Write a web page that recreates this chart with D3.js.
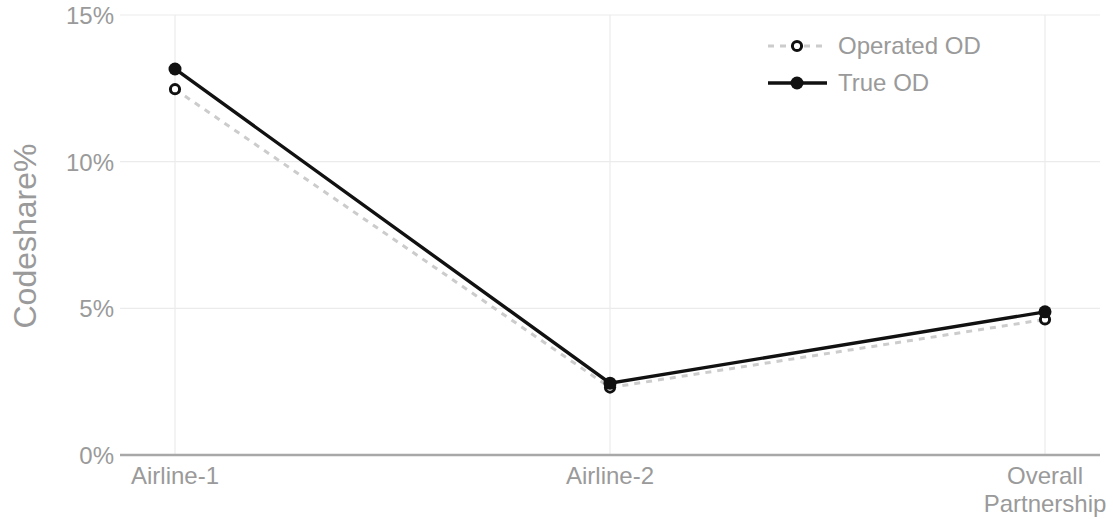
<!DOCTYPE html>
<html>
<head>
<meta charset="utf-8">
<script src="https://cdn.jsdelivr.net/npm/d3@7"></script>
<style>
  html, body { margin: 0; padding: 0; background: #fff; }
  text { font-family: "Liberation Sans", Arial, sans-serif; }
</style>
</head>
<body>
<svg id="chart" width="1113" height="519"></svg>
<script>
// Codeshare share by carrier, measured on operated vs true origin-destination
const categories = ["Airline-1", "Airline-2", "Overall\nPartnership"];
const operatedOD = [12.47, 2.30, 4.62];
const trueOD = [13.16, 2.45, 4.88];
const yTicks = [0, 5, 10, 15];
const seriesNames = ["Operated OD", "True OD"];

const svg = d3.select("#chart");
const margin = { left: 120, right: 13, top: 15, bottom: 64 };
const W = 1113, H = 519;

const x = d3.scalePoint()
  .domain(categories)
  .range([175, 1045]);

const y = d3.scaleLinear()
  .domain([0, 15])
  .range([455, 15]);

const gridColor = "#ebebeb";
const textColor = "#9a9a9a";
const fontSize = "24px";

// horizontal gridlines
svg.append("g").selectAll("line")
  .data(yTicks.filter(d => d > 0))
  .join("line")
  .attr("x1", margin.left).attr("x2", W - margin.right)
  .attr("y1", d => y(d)).attr("y2", d => y(d))
  .attr("stroke", gridColor).attr("stroke-width", 1.2);

// vertical gridlines
svg.append("g").selectAll("line")
  .data(categories)
  .join("line")
  .attr("x1", d => x(d)).attr("x2", d => x(d))
  .attr("y1", y(15)).attr("y2", y(0))
  .attr("stroke", gridColor).attr("stroke-width", 1.2);

// y tick labels
const yAxis = d3.axisLeft(y).tickValues(yTicks).tickFormat(d => d + "%").tickSize(0).tickPadding(6);
const gy = svg.append("g").attr("transform", `translate(${margin.left},0)`).call(yAxis);
gy.select(".domain").remove();
gy.selectAll("text")
  .attr("fill", textColor)
  .attr("dy", "0.36em")
  .style("font-size", fontSize)
  .style("font-family", "'Liberation Sans', Arial, sans-serif");

// x axis baseline
svg.append("line")
  .attr("x1", margin.left).attr("x2", W - margin.right)
  .attr("y1", y(0)).attr("y2", y(0))
  .attr("stroke", "#a8a8a8").attr("stroke-width", 2.5);

// x category labels (multi-line)
const xl = svg.append("g").selectAll("text")
  .data(categories)
  .join("text")
  .attr("x", d => x(d))
  .attr("y", 484)
  .attr("text-anchor", "middle")
  .attr("fill", textColor)
  .style("font-size", fontSize);
xl.each(function(d) {
  const t = d3.select(this);
  d.split("\n").forEach((line, i) => {
    t.append("tspan").attr("x", x(d)).attr("dy", i === 0 ? 0 : 28).text(line);
  });
});

// y axis title
svg.append("text")
  .attr("transform", "translate(36, 236) rotate(-90)")
  .attr("text-anchor", "middle")
  .attr("fill", textColor)
  .style("font-size", "32px")
  .text("Codeshare%");

const line = d3.line()
  .x((d, i) => x(categories[i]))
  .y(d => y(d));

// Operated OD: dashed light gray line, hollow markers
svg.append("path")
  .datum(operatedOD)
  .attr("d", line)
  .attr("fill", "none")
  .attr("stroke", "#cccccc")
  .attr("stroke-width", 3)
  .attr("stroke-dasharray", "6,6");

// True OD: solid black line
svg.append("path")
  .datum(trueOD)
  .attr("d", line)
  .attr("fill", "none")
  .attr("stroke", "#111")
  .attr("stroke-width", 3.4);

svg.append("g").selectAll("circle")
  .data(operatedOD)
  .join("circle")
  .attr("cx", (d, i) => x(categories[i]))
  .attr("cy", d => y(d))
  .attr("r", 4.6)
  .attr("fill", "#fff")
  .attr("stroke", "#111")
  .attr("stroke-width", 3);

svg.append("g").selectAll("circle")
  .data(trueOD)
  .join("circle")
  .attr("cx", (d, i) => x(categories[i]))
  .attr("cy", d => y(d))
  .attr("r", 6.5)
  .attr("fill", "#111");

// legend
const legend = svg.append("g").attr("transform", "translate(768, 46)");
const l1 = legend.append("g");
l1.append("line").attr("x1", 0).attr("x2", 59).attr("y1", 0).attr("y2", 0)
  .attr("stroke", "#cccccc").attr("stroke-width", 3).attr("stroke-dasharray", "6,6");
l1.append("circle").attr("cx", 29).attr("cy", 0).attr("r", 4.6)
  .attr("fill", "#fff").attr("stroke", "#111").attr("stroke-width", 3);
l1.append("text").attr("x", 70).attr("y", 8).attr("fill", textColor)
  .style("font-size", fontSize).text(seriesNames[0]);

const l2 = legend.append("g").attr("transform", "translate(0, 37)");
l2.append("line").attr("x1", 0).attr("x2", 59).attr("y1", 0).attr("y2", 0)
  .attr("stroke", "#111").attr("stroke-width", 3.4);
l2.append("circle").attr("cx", 29).attr("cy", 0).attr("r", 6.5).attr("fill", "#111");
l2.append("text").attr("x", 70).attr("y", 8).attr("fill", textColor)
  .style("font-size", fontSize).text(seriesNames[1]);
</script>
</body>
</html>
